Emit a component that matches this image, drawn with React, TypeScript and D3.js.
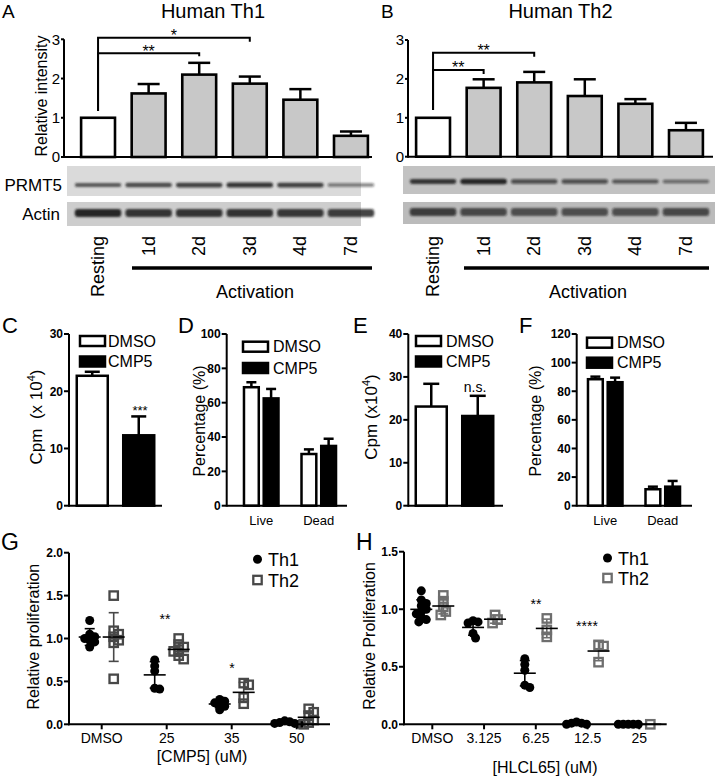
import React from "react";
import * as d3 from "d3";

const FONT = "'Liberation Sans', Arial, Helvetica, sans-serif";

// ---------- Panels A / B ----------
const timeLabels = ["Resting", "1d", "2d", "3d", "4d", "7d"];
const th1Intensity = [1.0, 1.62, 2.1, 1.87, 1.46, 0.54];
const th1IntensityErr = [0, 0.24, 0.3, 0.18, 0.27, 0.11];
const th2Intensity = [1.0, 1.77, 1.91, 1.56, 1.36, 0.68];
const th2IntensityErr = [0, 0.22, 0.27, 0.43, 0.12, 0.19];
const intensityTicks = [0, 1, 2, 3];
const th1Prmt5Band = [0.55, 0.65, 0.75, 0.85, 0.75, 0.3];
const th1ActinBand = [0.95, 0.85, 0.85, 0.85, 0.82, 0.78];
const th2Prmt5Band = [0.8, 1.0, 0.62, 0.6, 0.56, 0.32];
const th2ActinBand = [0.75, 0.65, 0.6, 0.6, 0.6, 0.65];

// ---------- Panels C-F ----------
const treatments = ["DMSO", "CMP5"];
const cpmC = [22.7, 12.3];
const cpmCErr = [0.7, 3.3];
const cpmTicksC = [0, 10, 20, 30];
const viabilityGroups = ["Live", "Dead"];
const viabilityD_DMSO = [69, 30.1];
const viabilityD_DMSOErr = [2.9, 2.7];
const viabilityD_CMP5 = [62.5, 34.8];
const viabilityD_CMP5Err = [5.5, 4.2];
const pctTicksD = [0, 20, 40, 60, 80, 100];
const cpmE = [23.1, 20.9];
const cpmEErr = [5.3, 4.7];
const cpmTicksE = [0, 10, 20, 30, 40];
const viabilityF_DMSO = [88.4, 11.5];
const viabilityF_DMSOErr = [1.8, 1.8];
const viabilityF_CMP5 = [86.3, 13.3];
const viabilityF_CMP5Err = [3.2, 4.0];
const pctTicksF = [0, 20, 40, 60, 80, 100, 120];

// ---------- Panels G / H ----------
const gCategories = ["DMSO", "25", "35", "50"];
const gTh1Points = [
  [1.21, 1.05, 1.02, 1.0, 0.98, 0.96, 0.9],
  [0.75, 0.68, 0.62, 0.42, 0.41],
  [0.29, 0.27, 0.25, 0.23, 0.21, 0.17],
  [0.04, 0.03, 0.02, 0.01, 0.01, 0.0],
];
const gTh2Points = [
  [1.5, 1.09, 1.05, 1.02, 0.98, 0.95, 0.53],
  [1.0, 0.93, 0.9, 0.87, 0.85, 0.8, 0.76],
  [0.48, 0.46, 0.31, 0.24],
  [0.18, 0.14, 0.1, 0.05, 0.02, 0.0],
];
const gYTicks = [0, 0.5, 1, 1.5, 2];
const hCategories = ["DMSO", "3.125", "6.25", "12.5", "25"];
const hTh1Points = [
  [1.16, 1.08, 1.05, 1.03, 1.0, 0.98, 0.96, 0.93, 0.91, 0.89],
  [0.9, 0.89, 0.88, 0.79, 0.75],
  [0.57, 0.52, 0.47, 0.34, 0.32],
  [0.02, 0.01, 0.01, 0.0, 0.0],
  [0, 0, 0, 0, 0],
];
const hTh2Points = [
  [1.12, 1.07, 1.02, 0.98, 0.95],
  [0.95, 0.91, 0.88],
  [0.92, 0.82, 0.76],
  [0.69, 0.68, 0.54],
  [0.0],
];
const hYTicks = [0, 0.5, 1, 1.5];

type Lin = d3.ScaleLinear<number, number>;

function YAxis({ y, ticks, x, fmt, size, bold, tick }: { y: Lin; ticks: number[]; x: number; fmt: (t: number) => string; size: number; bold?: boolean; tick: number }) {
  const [r0, r1] = y.range();
  return (
    <g>
      <line x1={x} x2={x} y1={r0 + 1} y2={r1} stroke="#000" strokeWidth={2} />
      {ticks.map((t) => (
        <g key={t}>
          <line x1={x - tick} x2={x} y1={y(t)} y2={y(t)} stroke="#000" strokeWidth={2} />
          <text x={x - tick - 1} y={y(t)} dy="0.36em" textAnchor="end" fontSize={size} fontWeight={bold ? "bold" : "normal"}>
            {fmt(t)}
          </text>
        </g>
      ))}
    </g>
  );
}

function ErrBar({ cx, y1, y2, cap, color = "#000", w = 2.5 }: { cx: number; y1: number; y2: number; cap: number; color?: string; w?: number }) {
  return (
    <g stroke={color} strokeWidth={w}>
      <line x1={cx} x2={cx} y1={y1} y2={y2} />
      <line x1={cx - cap / 2} x2={cx + cap / 2} y1={y2} y2={y2} />
    </g>
  );
}

function IntensityPanel({ x, y, vals, errs, axisX, axisEnd }: { x: d3.ScaleBand<string>; y: Lin; vals: number[]; errs: number[]; axisX: number; axisEnd: number }) {
  const bw = x.bandwidth();
  return (
    <g>
      {vals.map((v, i) => {
        const bx = x(timeLabels[i])!;
        return (
          <g key={i}>
            {errs[i] > 0 && <ErrBar cx={bx + bw / 2} y1={y(v)} y2={y(v + errs[i])} cap={22} />}
            <rect x={bx} y={y(v)} width={bw} height={y(0) - y(v)} fill={i === 0 ? "#fff" : "#c8c8c8"} stroke="#000" strokeWidth={2.6} />
          </g>
        );
      })}
      <line x1={axisX} x2={axisEnd} y1={y(0)} y2={y(0)} stroke="#000" strokeWidth={2} />
      <YAxis y={y} ticks={intensityTicks} x={axisX} fmt={(t) => String(t)} size={15} tick={3} />
    </g>
  );
}

function Bracket({ x1, x2, yTop, yStart, drop, label, labelY }: { x1: number; x2: number; yTop: number; yStart: number; drop: number; label: string; labelY: number }) {
  return (
    <g>
      <path d={`M${x1},${yStart}V${yTop}H${x2}V${yTop + drop}`} fill="none" stroke="#000" strokeWidth={2} />
      <text x={(x1 + x2) / 2} y={labelY} textAnchor="middle" fontSize={16}>
        {label}
      </text>
    </g>
  );
}

function Blot({ x, left, right, prmt, actin, bgP, bgA, pTop, pBot, aTop, aBot, pY, aY }: any) {
  const w = x.step() * 0.92;
  return (
    <g>
      <rect x={left} y={pTop} width={right - left} height={pBot - pTop} fill={bgP} />
      <rect x={left} y={aTop} width={right - left} height={aBot - aTop} fill={bgA} />
      <g filter="url(#blur)">
        {prmt.map((v: number, i: number) => {
          const cx = x(timeLabels[i])! + x.bandwidth() / 2;
          const h = 2.5 + 3 * v;
          return <rect key={"p" + i} x={cx - w / 2} y={pY - h / 2} width={w} height={h} rx={h / 2} fill="#1a1a1a" opacity={0.35 + 0.6 * v} />;
        })}
        {actin.map((v: number, i: number) => {
          const cx = x(timeLabels[i])! + x.bandwidth() / 2;
          const h = 8;
          return <rect key={"a" + i} x={cx - w / 2} y={aY - h / 2} width={w} height={h} rx={3} fill="#1a1a1a" opacity={0.3 + 0.65 * v} />;
        })}
      </g>
    </g>
  );
}

function TimeLabels({ x, top, lineY, lineX1, lineX2, actX }: { x: d3.ScaleBand<string>; top: number; lineY: number; lineX1: number; lineX2: number; actX: number }) {
  return (
    <g>
      {timeLabels.map((t) => {
        const cx = x(t)! + x.bandwidth() / 2;
        return (
          <text key={t} transform={`translate(${cx + 6},${top}) rotate(-90)`} textAnchor="end" fontSize={18}>
            {t}
          </text>
        );
      })}
      <line x1={lineX1} x2={lineX2} y1={lineY} y2={lineY} stroke="#000" strokeWidth={3.5} />
      <text x={actX} y={298} textAnchor="middle" fontSize={18}>
        Activation
      </text>
    </g>
  );
}

function SimpleBars({ x, y, vals, errs, cap }: { x: d3.ScaleBand<string>; y: Lin; vals: number[]; errs: number[]; cap: number }) {
  const bw = x.bandwidth();
  return (
    <g>
      {vals.map((v, i) => {
        const bx = x(treatments[i])!;
        return (
          <g key={i}>
            <ErrBar cx={bx + bw / 2} y1={y(v)} y2={y(v + errs[i])} cap={cap} />
            <rect x={bx} y={y(v)} width={bw} height={y(0) - y(v)} fill={i === 0 ? "#fff" : "#000"} stroke="#000" strokeWidth={2.5} />
          </g>
        );
      })}
    </g>
  );
}

function GroupBars({ xg, y, dmso, dmsoErr, cmp, cmpErr }: { xg: d3.ScaleBand<string>; y: Lin; dmso: number[]; dmsoErr: number[]; cmp: number[]; cmpErr: number[] }) {
  const xs = d3.scaleBand().domain(treatments).range([0, xg.bandwidth()]).paddingInner(0.25);
  const bw = xs.bandwidth();
  return (
    <g>
      {viabilityGroups.map((g, gi) =>
        treatments.map((t, ti) => {
          const v = ti === 0 ? dmso[gi] : cmp[gi];
          const e = ti === 0 ? dmsoErr[gi] : cmpErr[gi];
          const bx = xg(g)! + xs(t)!;
          return (
            <g key={g + t}>
              <ErrBar cx={bx + bw / 2} y1={y(v)} y2={y(v + e)} cap={10} />
              <rect x={bx} y={y(v)} width={bw} height={y(0) - y(v)} fill={ti === 0 ? "#fff" : "#000"} stroke="#000" strokeWidth={2.5} />
            </g>
          );
        })
      )}
      {viabilityGroups.map((g) => (
        <text key={g} x={xg(g)! + xg.bandwidth() / 2} y={525} textAnchor="middle" fontSize={13}>
          {g}
        </text>
      ))}
    </g>
  );
}

function BarLegend({ x, y1, y2, tx, size }: { x: number; y1: number; y2: number; tx: number; size: number }) {
  return (
    <g>
      <rect x={x} y={y1 - 5} width={25} height={10} fill="#fff" stroke="#000" strokeWidth={2.5} />
      <rect x={x} y={y2 - 5} width={25} height={10} fill="#000" stroke="#000" strokeWidth={2.5} />
      <text x={tx} y={y1} dy="0.36em" fontSize={size}>DMSO</text>
      <text x={tx} y={y2} dy="0.36em" fontSize={size}>CMP5</text>
    </g>
  );
}

function swarm(vals: number[], y: Lin, minDist: number, step: number) {
  const placed: { x: number; y: number }[] = [];
  return vals.map((v) => {
    const py = y(v);
    let off = 0;
    for (let k = 0; k < 60; k++) {
      off = k === 0 ? 0 : (k % 2 === 1 ? 1 : -1) * Math.ceil(k / 2) * step;
      if (placed.every((p) => Math.hypot(p.x - off, p.y - py) >= minDist)) break;
    }
    placed.push({ x: off, y: py });
    return { dx: off, y: py };
  });
}

function Scatter({ x, y, th1, th2, cats, off, th2Color, axisX, axisEnd, ticks }: { x: d3.ScalePoint<string>; y: Lin; th1: number[][]; th2: number[][]; cats: string[]; off: number; th2Color: string; axisX: number; axisEnd: number; ticks: number[] }) {
  return (
    <g>
      {cats.map((c, ci) => {
        const cx1 = x(c)! - off;
        const cx2 = x(c)! + off;
        const p1 = swarm(th1[ci], y, 5, 2.5);
        const p2 = swarm(th2[ci], y, 5, 2.5);
        const m1 = d3.mean(th1[ci])!;
        const s1 = th1[ci].length > 1 ? d3.deviation(th1[ci])! : 0;
        const m2 = d3.mean(th2[ci])!;
        const s2 = th2[ci].length > 1 ? d3.deviation(th2[ci])! : 0;
        return (
          <g key={c}>
            {p1.map((p, i) => (
              <circle key={"a" + i} cx={cx1 + p.dx} cy={p.y} r={4.5} fill="#000" />
            ))}
            {p2.map((p, i) => (
              <rect key={"b" + i} x={cx2 + p.dx - 4.2} y={p.y - 4.2} width={8.4} height={8.4} fill="none" stroke={th2Color} strokeWidth={2.3} />
            ))}
            <g stroke="#000" strokeWidth={1.6}>
              <line x1={cx1 - 11} x2={cx1 + 11} y1={y(m1)} y2={y(m1)} />
              {s1 > 0.005 && (
                <>
                  <line x1={cx1} x2={cx1} y1={y(m1 - s1)} y2={y(m1 + s1)} />
                  <line x1={cx1 - 5} x2={cx1 + 5} y1={y(m1 - s1)} y2={y(m1 - s1)} />
                  <line x1={cx1 - 5} x2={cx1 + 5} y1={y(m1 + s1)} y2={y(m1 + s1)} />
                </>
              )}
            </g>
            <g stroke={th2Color} strokeWidth={1.6}>
              {s2 > 0.005 && (
                <>
                  <line x1={cx2} x2={cx2} y1={y(m2 - s2)} y2={y(m2 + s2)} />
                  <line x1={cx2 - 5} x2={cx2 + 5} y1={y(m2 - s2)} y2={y(m2 - s2)} />
                  <line x1={cx2 - 5} x2={cx2 + 5} y1={y(m2 + s2)} y2={y(m2 + s2)} />
                </>
              )}
            </g>
            <line x1={cx2 - 11} x2={cx2 + 11} y1={y(m2)} y2={y(m2)} stroke="#000" strokeWidth={1.6} />
          </g>
        );
      })}
      <line x1={axisX - 1} x2={axisEnd} y1={y(0)} y2={y(0)} stroke="#000" strokeWidth={2} />
      {cats.map((c) => (
        <g key={"t" + c}>
          <line x1={x(c)!} x2={x(c)!} y1={y(0)} y2={y(0) + 5} stroke="#000" strokeWidth={2} />
          <text x={x(c)!} y={743} textAnchor="middle" fontSize={14}>{c}</text>
        </g>
      ))}
      <YAxis y={y} ticks={ticks} x={axisX} fmt={d3.format(".1f")} size={12} bold tick={5} />
    </g>
  );
}

function ScatterLegend({ x, y1, y2, color }: { x: number; y1: number; y2: number; color: string }) {
  return (
    <g>
      <circle cx={x} cy={y1} r={4.5} fill="#000" />
      <rect x={x - 4.2} y={y2 - 4.2} width={8.4} height={8.4} fill="none" stroke={color} strokeWidth={2.3} />
      <text x={x + 10.5} y={y1 + 6.5} fontSize={18}>Th1</text>
      <text x={x + 10.5} y={y2 + 6.5} fontSize={18}>Th2</text>
    </g>
  );
}

function VLabel({ x, y, size, children }: { x: number; y: number; size: number; children: React.ReactNode }) {
  return (
    <text transform={`translate(${x},${y}) rotate(-90)`} textAnchor="middle" fontSize={size}>
      {children}
    </text>
  );
}

export default function App() {
  const xA = d3.scaleBand().domain(timeLabels).range([72, 377]).paddingInner(0.33).paddingOuter(0.18);
  const yA = d3.scaleLinear().domain([0, 3]).range([157, 39.3]);
  const xB = d3.scaleBand().domain(timeLabels).range([407, 712]).paddingInner(0.33).paddingOuter(0.18);
  const yB = d3.scaleLinear().domain([0, 3]).range([156.7, 40]);
  const cA = (i: number) => xA(timeLabels[i])! + xA.bandwidth() / 2;
  const cB = (i: number) => xB(timeLabels[i])! + xB.bandwidth() / 2;

  const yCF = (max: number) => d3.scaleLinear().domain([0, max]).range([505.7, 334]);
  const xC = d3.scaleBand().domain(treatments).range([69, 162]).paddingInner(0.333).paddingOuter(0.167);
  const xE = d3.scaleBand().domain(treatments).range([408, 501]).paddingInner(0.333).paddingOuter(0.167);
  const xD = d3.scaleBand().domain(viabilityGroups).range([230, 350]).paddingInner(0.4).paddingOuter(0.243);
  const xF = d3.scaleBand().domain(viabilityGroups).range([574, 694]).paddingInner(0.4).paddingOuter(0.243);
  const yC = yCF(30), yD = yCF(100), yE = yCF(40), yF = yCF(120);

  const xG = d3.scalePoint().domain(gCategories).range([101.7, 296.7]);
  const yG = d3.scaleLinear().domain([0, 2]).range([724.3, 552.7]);
  const xH = d3.scalePoint().domain(hCategories).range([432.3, 639.3]);
  const yH = d3.scaleLinear().domain([0, 1.5]).range([724.3, 551.7]);

  return (
    <svg width={717} height={778} style={{ display: "block", position: "absolute", left: 0, top: 0 }} fontFamily={FONT}>
      <defs>
        <filter id="blur" x="-20%" y="-100%" width="140%" height="300%">
          <feGaussianBlur stdDeviation="1.1" />
        </filter>
      </defs>
      <rect width={717} height={778} fill="#fff" />

      {/* Panel A */}
      <text x={2} y={18.3} fontSize={19}>A</text>
      <text x={213} y={18.3} textAnchor="middle" fontSize={20}>Human Th1</text>
      <IntensityPanel x={xA} y={yA} vals={th1Intensity} errs={th1IntensityErr} axisX={64} axisEnd={372} />
      <VLabel x={46.5} y={96} size={16}>Relative intensity</VLabel>
      <Bracket x1={cA(0)} x2={cA(3)} yTop={37.7} yStart={111} drop={4} label="*" labelY={41} />
      <Bracket x1={cA(0)} x2={cA(2)} yTop={53.3} yStart={111} drop={3} label="**" labelY={57} />
      <Blot x={xA} left={67} right={361} prmt={th1Prmt5Band} actin={th1ActinBand} bgP="#dadada" bgA="#cdcdcd" pTop={166} pBot={196} aTop={202} aBot={226} pY={185} aY={213} />
      <text x={62} y={185} dy="0.36em" textAnchor="end" fontSize={17}>PRMT5</text>
      <text x={60} y={213.5} dy="0.36em" textAnchor="end" fontSize={17}>Actin</text>
      <TimeLabels x={xA} top={236} lineY={268} lineX1={132} lineX2={372} actX={255} />

      {/* Panel B */}
      <text x={381} y={18.3} fontSize={19}>B</text>
      <text x={560.5} y={18.3} textAnchor="middle" fontSize={20}>Human Th2</text>
      <IntensityPanel x={xB} y={yB} vals={th2Intensity} errs={th2IntensityErr} axisX={408} axisEnd={713} />
      <Bracket x1={cB(0)} x2={cB(2)} yTop={52.7} yStart={110} drop={4} label="**" labelY={56} />
      <Bracket x1={cB(0)} x2={cB(1)} yTop={70} yStart={110} drop={4} label="**" labelY={73} />
      <Blot x={xB} left={403} right={715} prmt={th2Prmt5Band} actin={th2ActinBand} bgP="#c2c2c2" bgA="#bbbbbb" pTop={166} pBot={194} aTop={202} aBot={224} pY={181.5} aY={212} />
      <TimeLabels x={xB} top={236} lineY={268} lineX1={464} lineX2={709} actX={588} />

      {/* Panel C */}
      <text x={2} y={333} fontSize={22}>C</text>
      <SimpleBars x={xC} y={yC} vals={cpmC} errs={cpmCErr} cap={15} />
      <line x1={69} x2={162} y1={yC(0)} y2={yC(0)} stroke="#000" strokeWidth={2} />
      <YAxis y={yC} ticks={cpmTicksC} x={69} fmt={(t) => String(t)} size={12} bold tick={5} />
      <BarLegend x={80} y1={341} y2={361.5} tx={108} size={16} />
      <text x={140} y={415} textAnchor="middle" fontSize={13}>***</text>
      <VLabel x={42} y={417} size={17}>
        Cpm{"\u00a0\u00a0"}(x 10<tspan dy={-7} fontSize={11}>4</tspan><tspan dy={7}>)</tspan>
      </VLabel>

      {/* Panel D */}
      <text x={178} y={333} fontSize={22}>D</text>
      <GroupBars xg={xD} y={yD} dmso={viabilityD_DMSO} dmsoErr={viabilityD_DMSOErr} cmp={viabilityD_CMP5} cmpErr={viabilityD_CMP5Err} />
      <line x1={226.7} x2={347} y1={yD(0)} y2={yD(0)} stroke="#000" strokeWidth={2} />
      <YAxis y={yD} ticks={pctTicksD} x={226.7} fmt={(t) => String(t)} size={12} bold tick={5} />
      <BarLegend x={243} y1={346.7} y2={368} tx={273} size={16} />
      <VLabel x={205} y={421} size={16}>Percentage (%)</VLabel>

      {/* Panel E */}
      <text x={353} y={333} fontSize={22}>E</text>
      <SimpleBars x={xE} y={yE} vals={cpmE} errs={cpmEErr} cap={16} />
      <line x1={408} x2={503} y1={yE(0)} y2={yE(0)} stroke="#000" strokeWidth={2} />
      <YAxis y={yE} ticks={cpmTicksE} x={408.3} fmt={(t) => String(t)} size={12} bold tick={5} />
      <BarLegend x={416} y1={341} y2={361.5} tx={446} size={16} />
      <text x={475} y={392} textAnchor="middle" fontSize={14}>n.s.</text>
      <VLabel x={377} y={417} size={17}>
        Cpm (x10<tspan dy={-7} fontSize={11}>4</tspan><tspan dy={7}>)</tspan>
      </VLabel>

      {/* Panel F */}
      <text x={519} y={333} fontSize={22}>F</text>
      <GroupBars xg={xF} y={yF} dmso={viabilityF_DMSO} dmsoErr={viabilityF_DMSOErr} cmp={viabilityF_CMP5} cmpErr={viabilityF_CMP5Err} />
      <line x1={576.7} x2={692} y1={yF(0)} y2={yF(0)} stroke="#000" strokeWidth={2} />
      <YAxis y={yF} ticks={pctTicksF} x={576.7} fmt={(t) => String(t)} size={12} bold tick={5} />
      <BarLegend x={587} y1={342.7} y2={362.7} tx={617} size={16} />
      <VLabel x={541} y={421} size={16}>Percentage (%)</VLabel>

      {/* Panel G */}
      <text x={1} y={550} fontSize={23}>G</text>
      <Scatter x={xG} y={yG} th1={gTh1Points} th2={gTh2Points} cats={gCategories} off={12} th2Color="#484848" axisX={69} axisEnd={330} ticks={gYTicks} />
      <ScatterLegend x={257.5} y1={559.3} y2={580} color="#484848" />
      <text x={165} y={624} textAnchor="middle" fontSize={14}>**</text>
      <text x={232} y={673} textAnchor="middle" fontSize={14}>*</text>
      <text x={202} y={762} textAnchor="middle" fontSize={16}>[CMP5] (uM)</text>
      <VLabel x={39} y={636.7} size={16}>Relative proliferation</VLabel>

      {/* Panel H */}
      <text x={356} y={550} fontSize={23}>H</text>
      <Scatter x={xH} y={yH} th1={hTh1Points} th2={hTh2Points} cats={hCategories} off={11} th2Color="#6e6e6e" axisX={404} axisEnd={666.7} ticks={hYTicks} />
      <ScatterLegend x={607.5} y1={558} y2={578} color="#6e6e6e" />
      <text x={536} y={609} textAnchor="middle" fontSize={14}>**</text>
      <text x={587} y={631} textAnchor="middle" fontSize={14}>****</text>
      <text x={545} y={773} textAnchor="middle" fontSize={16}>[HLCL65] (uM)</text>
      <VLabel x={375} y={636} size={16}>Relative Proliferation</VLabel>
    </svg>
  );
}
